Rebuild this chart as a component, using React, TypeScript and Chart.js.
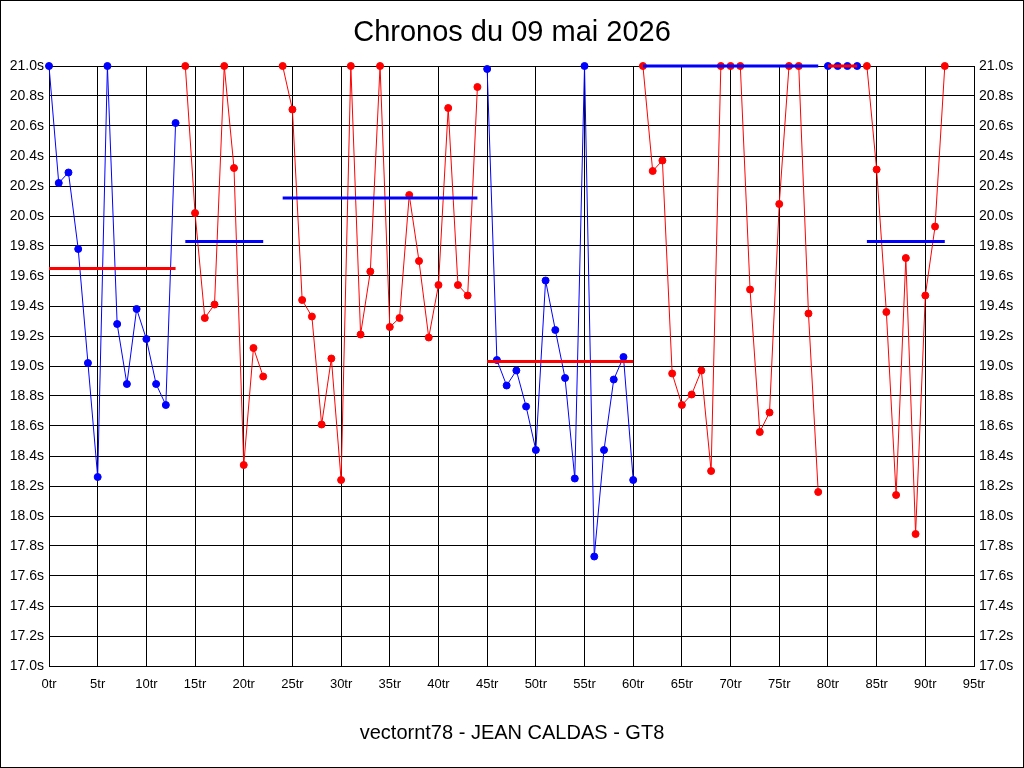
import { useEffect, useRef } from 'react';
import { Chart, registerables } from 'chart.js';

Chart.register(...registerables);

// first lap of each stint
const stintStarts = [0, 14, 24, 45, 61, 80, 84];

// lap times (s) per stint
const stint1 = [21.0, 20.22, 20.29, 19.78, 19.02, 18.26, 21.0, 19.28, 18.88, 19.38, 19.18, 18.88, 18.74, 20.62];
const stint2 = [21.0, 20.02, 19.32, 19.41, 21.0, 20.32, 18.34, 19.12, 18.93];
const stint3 = [21.0, 20.71, 19.44, 19.33, 18.61, 19.05, 18.24, 21.0, 19.21, 19.63, 21.0, 19.26, 19.32, 20.14, 19.7, 19.19, 19.54, 20.72, 19.54, 19.47, 20.86];
const stint4 = [20.98, 19.04, 18.87, 18.97, 18.73, 18.44, 19.57, 19.24, 18.92, 18.25, 21.0, 17.73, 18.44, 18.91, 19.06, 18.24];
const stint5 = [21.0, 20.3, 20.37, 18.95, 18.74, 18.81, 18.97, 18.3, 21.0, 21.0, 21.0, 19.51, 18.56, 18.69, 20.08, 21.0, 21.0, 19.35, 18.16];
const stint6 = [21.0, 21.0, 21.0, 21.0];
const stint7 = [21.0, 20.31, 19.36, 18.14, 19.72, 17.88, 19.47, 19.93, 21.0];

const stints = [stint1, stint2, stint3, stint4, stint5, stint6, stint7];

// average per stint
const stintAverages = [19.65, 19.83, 20.12, 19.03, 21.0, 21.0, 19.83];

const BLUE = '#0000ff';
const RED = '#ff0000';
const stintColors = [BLUE, RED, RED, BLUE, RED, BLUE, RED];
const avgColors = [RED, BLUE, BLUE, RED, BLUE, RED, BLUE];

const FONT = '"Liberation Sans", Arial, sans-serif';

const frame = {
  id: 'frame',
  afterDraw(chart: Chart) {
    const ctx = chart.ctx;
    ctx.save();
    ctx.strokeStyle = '#000';
    ctx.lineWidth = 1;
    ctx.strokeRect(0.5, 0.5, chart.width - 1, chart.height - 1);
    ctx.restore();
  },
};

function App() {
  const chartRef = useRef<HTMLCanvasElement>(null);
  const chartInstance = useRef<Chart | null>(null);

  useEffect(() => {
    if (!chartRef.current) return;
    const ctx = chartRef.current.getContext('2d');
    if (!ctx) return;
    if (chartInstance.current) chartInstance.current.destroy();

    const datasets: any[] = [];
    stints.forEach((vals, i) => {
      const start = stintStarts[i];
      datasets.push({
        label: 'Relais ' + (i + 1),
        data: vals.map((v, k) => ({ x: start + k, y: v })),
        borderColor: stintColors[i],
        backgroundColor: stintColors[i],
        borderWidth: 1,
        pointRadius: 3.5,
        pointBorderWidth: 1,
        clip: false,
        order: 2,
      });
      datasets.push({
        label: 'Moyenne ' + (i + 1),
        data: [
          { x: start, y: stintAverages[i] },
          { x: start + vals.length - 1, y: stintAverages[i] },
        ],
        borderColor: avgColors[i],
        backgroundColor: avgColors[i],
        borderWidth: 3,
        pointRadius: 0,
        clip: false,
        order: 1,
      });
    });

    chartInstance.current = new Chart(ctx, {
      type: 'line',
      data: { datasets },
      options: {
        responsive: false,
        animation: false,
        layout: { padding: 0 },
        plugins: {
          legend: { display: false },
          tooltip: { enabled: false },
          title: {
            display: true,
            text: 'Chronos du 09 mai 2026',
            color: '#000',
            font: { family: FONT, size: 29, weight: 'normal', lineHeight: 1.2 },
            padding: { top: 16, bottom: 15.2 },
          },
          subtitle: {
            display: true,
            position: 'bottom',
            text: 'vectornt78 - JEAN CALDAS - GT8',
            color: '#000',
            font: { family: FONT, size: 20, weight: 'normal', lineHeight: 1.2 },
            padding: { top: 25, bottom: 23 },
          },
        },
        scales: {
          x: {
            type: 'linear',
            min: 0,
            max: 95,
            afterFit: (scale: any) => {
              scale.height = 30;
            },
            grid: { color: '#000', lineWidth: 1, drawTicks: false },
            border: { color: '#000', width: 1 },
            ticks: {
              stepSize: 5,
              color: '#000',
              padding: 11,
              maxRotation: 0,
              font: { family: FONT, size: 13 },
              callback: (v: any) => v + 'tr',
            },
          },
          y: {
            type: 'linear',
            position: 'left',
            min: 17,
            max: 21,
            afterFit: (scale: any) => {
              scale.width = 49;
            },
            grid: { color: '#000', lineWidth: 1, drawTicks: false },
            border: { color: '#000', width: 1 },
            ticks: {
              stepSize: 0.2,
              color: '#000',
              padding: 5,
              font: { family: FONT, size: 14 },
              callback: (v: any) => Number(v).toFixed(1) + 's',
            },
          },
          y2: {
            type: 'linear',
            position: 'right',
            min: 17,
            max: 21,
            afterFit: (scale: any) => {
              scale.width = 50;
            },
            grid: { display: false, drawTicks: false },
            border: { color: '#000', width: 1 },
            ticks: {
              stepSize: 0.2,
              color: '#000',
              padding: 5,
              font: { family: FONT, size: 14 },
              callback: (v: any) => Number(v).toFixed(1) + 's',
            },
          },
        },
      },
      plugins: [frame],
    });

    return () => {
      if (chartInstance.current) {
        chartInstance.current.destroy();
        chartInstance.current = null;
      }
    };
  }, []);

  return (
    <div style={{ position: 'absolute', left: 0, top: 0, width: 1024, height: 768, background: '#fff' }}>
      <canvas ref={chartRef} width={1024} height={768}></canvas>
    </div>
  );
}

export default App;
